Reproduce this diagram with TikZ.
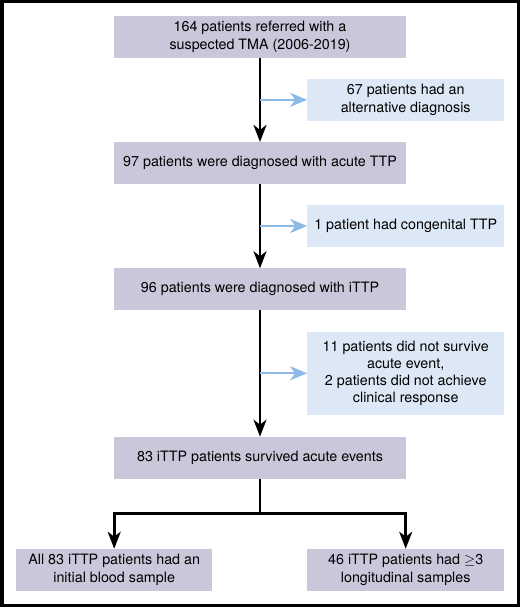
\documentclass[tikz,border=0pt]{standalone}
\usepackage{fontspec}
\setmainfont{TeX Gyre Heros}
\usetikzlibrary{arrows.meta}
\definecolor{mainfill}{RGB}{200,200,218}
\definecolor{sidefill}{RGB}{221,232,246}
\definecolor{sideline}{RGB}{141,185,230}
\tikzset{
  mainbox/.style={fill=mainfill, minimum width=291.4pt, minimum height=41.7pt, inner sep=0pt, align=center, font=\fontsize{14.3}{17.3}\selectfont},
  sidebox/.style={fill=sidefill, minimum width=196.7pt, minimum height=41.7pt, inner sep=0pt, align=center, font=\fontsize{14.3}{17.3}\selectfont},
  flow/.style={line width=2.6pt, -{Stealth[length=17pt,width=13pt,inset=5pt]}},
  exclude/.style={sideline, line width=2pt, -{Stealth[length=17pt,width=14pt,inset=5pt]}}
}

\begin{document}
\begin{tikzpicture}[x=1pt,y=-1pt]
        \useasboundingbox (0,0) rectangle (520,607);
        \draw [line width=3.5pt] (1.75,1.75) rectangle (518.25,605.25);
        % main column
        \node[mainbox] (referred) at (260,36.8) {164 patients referred with a\\suspected TMA (2006-2019)};
        \node[mainbox] (acute) at (260,163) {97 patients were diagnosed with acute TTP};
        \node[mainbox] (ittp) at (260,289.3) {96 patients were diagnosed with iTTP};
        \node[mainbox] (survived) at (260,457.7) {83 iTTP patients survived acute events};
        % excluded
        \node[sidebox] (alternative) at (405.7,99.8) {67 patients had an\\alternative diagnosis};
        \node[sidebox] (congenital) at (405.7,226) {1 patient had congenital TTP};
        \node[sidebox, minimum height=83.3pt] (died) at (405.7,373.3) {11 patients did not survive\\acute event,\\2 patients did not achieve\\clinical response};
        % samples
        \node[mainbox, minimum width=196.3pt] (initial) at (114.2,569.8) {All 83 iTTP patients had an\\initial blood sample};
        \node[sidebox, fill=mainfill] (longitudinal) at (405.7,569.8) {46 iTTP patients had $\geq$3\\longitudinal samples};
        \coordinate (split) at (260,513.3);
        \draw [flow] (referred) -- (acute);
        \draw [flow] (acute) -- (ittp);
        \draw [flow] (ittp) -- (survived);
        \draw [exclude] (referred.south |- alternative.west) -- (alternative.west);
        \draw [exclude] (acute.south |- congenital.west) -- (congenital.west);
        \draw [exclude] (ittp.south |- died.west) -- (died.west);
        \draw [line width=2.6pt] (survived) -- (split);
        \draw [flow] (split) -| (initial);
        \draw [flow] (split) -| (longitudinal);
\end{tikzpicture}
\end{document}
